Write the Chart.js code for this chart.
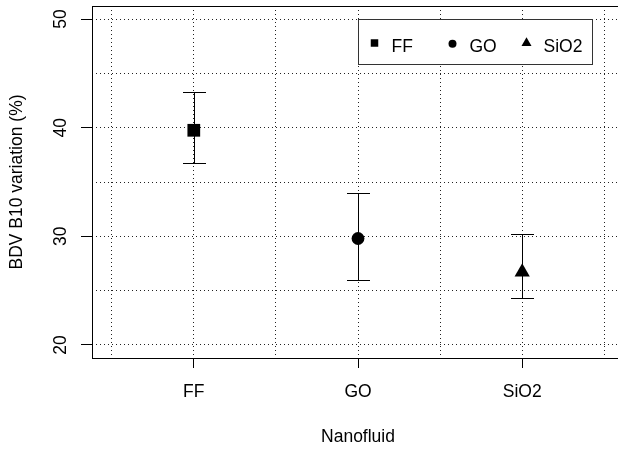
<!DOCTYPE html>
<html>
<head>
<meta charset="utf-8">
<style>
html,body{margin:0;padding:0;overflow:hidden;background:#fff;width:618px;height:450px}
#wrap{position:absolute;left:0;top:0;width:624px;height:450px}
</style>
<script src="https://cdn.jsdelivr.net/npm/chart.js@4/dist/chart.umd.min.js"></script>
</head>
<body>
<div id="wrap"><canvas id="c" width="624" height="450"></canvas></div>
<script>
// ---- data ----
const categories = ['FF', 'GO', 'SiO2'];
const means  = [39.76, 29.8, 26.7];
const lowers = [36.74, 26.0, 24.3];
const uppers = [43.27, 34.0, 30.2];
const yTicks  = [20, 25, 30, 35, 40, 45, 50];
const yLabels = ['20', '', '30', '', '40', '', '50'];
const xGrid   = [0.5, 1, 1.5, 2, 2.5, 3, 3.5];
const xTitle = 'Nanofluid';
const yTitle = 'BDV B10 variation (%)';

// ---- styling ----
const FONT = {family: "'Liberation Sans', Arial, Helvetica, sans-serif", size: 17.5};
const markerStyle = [
  {style: 'rect', r: 9},
  {style: 'circle', r: 6.4},
  {style: 'triangle', r: 8.8}
];
const GRID = '#222';

function drawShape(ctx, kind, x, y, size) {
  ctx.beginPath();
  if (kind === 'rect') {
    ctx.rect(x - size / 2, y - size / 2, size, size);
  } else if (kind === 'circle') {
    ctx.arc(x, y, size / 2, 0, Math.PI * 2);
  } else {
    const r = size / 1.732;
    ctx.moveTo(x, y - r);
    ctx.lineTo(x + 0.866 * r, y + 0.5 * r);
    ctx.lineTo(x - 0.866 * r, y + 0.5 * r);
    ctx.closePath();
  }
  ctx.fill();
}

const errorBars = {
  id: 'errorBars',
  beforeDatasetsDraw(chart) {
    const {ctx, scales: {x, y}} = chart;
    ctx.save();
    ctx.strokeStyle = '#000';
    ctx.lineWidth = 1;
    const cap = 11.5;
    categories.forEach((c, i) => {
      const px = Math.round(x.getPixelForValue(i + 1)) + 0.5;
      const yl = Math.round(y.getPixelForValue(lowers[i])) + 0.5;
      const yu = Math.round(y.getPixelForValue(uppers[i])) + 0.5;
      ctx.beginPath();
      ctx.moveTo(px, yl); ctx.lineTo(px, yu);
      ctx.moveTo(px - cap, yl); ctx.lineTo(px + cap, yl);
      ctx.moveTo(px - cap, yu); ctx.lineTo(px + cap, yu);
      ctx.stroke();
    });
    ctx.restore();
  }
};

const boxAndLegend = {
  id: 'boxAndLegend',
  afterDraw(chart) {
    const {ctx, chartArea: a, scales: {x, y}} = chart;
    ctx.save();
    ctx.strokeStyle = '#000';
    ctx.lineWidth = 1;
    ctx.strokeRect(Math.round(a.left) + 0.5, Math.round(a.top) + 0.5,
                   Math.round(a.right - a.left), Math.round(a.bottom - a.top));
    // legend anchored at (x=2, y=50) top-left
    const lx = Math.round(x.getPixelForValue(2)) + 0.5;
    const ly = Math.round(y.getPixelForValue(50)) + 0.5;
    const bw = 234, bh = 45;
    ctx.fillStyle = '#fff';
    ctx.fillRect(lx, ly, bw, bh);
    ctx.strokeStyle = '#333';
    ctx.strokeRect(lx, ly, bw, bh);
    const markerX = [16, 94, 168];
    const markerSize = [7.5, 8, 10];
    const markerDy = [23.5, 24.3, 23.5];
    ctx.fillStyle = '#000';
    ctx.font = FONT.size + 'px ' + FONT.family;
    ctx.textBaseline = 'alphabetic';
    ctx.textAlign = 'left';
    chart.data.datasets.forEach((ds, i) => {
      drawShape(ctx, markerStyle[i].style, lx + markerX[i], ly + markerDy[i], markerSize[i]);
      ctx.fillText(ds.label, lx + markerX[i] + 17, ly + 32);
    });
    ctx.restore();
  }
};

const datasets = categories.map((c, i) => ({
  label: c,
  data: [{x: i + 1, y: means[i]}],
  pointStyle: markerStyle[i].style,
  pointRadius: markerStyle[i].r,
  pointHoverRadius: markerStyle[i].r,
  backgroundColor: '#000',
  borderColor: '#000',
  borderWidth: 0,
  showLine: false
}));

new Chart(document.getElementById('c'), {
  type: 'scatter',
  data: {datasets},
  plugins: [errorBars, boxAndLegend],
  options: {
    responsive: false,
    animation: false,
    devicePixelRatio: 1,
    layout: {autoPadding: false, padding: {top: 6, left: 0, right: 0, bottom: 0}},
    plugins: {legend: {display: false}, tooltip: {enabled: false}},
    scales: {
      x: {
        type: 'linear', min: 0.38, max: 3.62,
        afterBuildTicks: s => { s.ticks = xGrid.map(v => ({value: v})); },
        afterFit: s => { s.height = 92; s.paddingLeft = 0; s.paddingRight = 0; s.paddingTop = 0; s.paddingBottom = 0; },
        grid: {
          color: GRID, lineWidth: 1, borderDash: [1, 3],
          tickLength: 10, tickWidth: 1, tickBorderDash: [],
          tickColor: ctx => (ctx.tick && Number.isInteger(ctx.tick.value)) ? '#000' : 'rgba(0,0,0,0)'
        },
        border: {display: false, dash: [1, 3]},
        ticks: {
          autoSkip: false, maxRotation: 0, minRotation: 0,
          padding: 13.5, color: '#000', font: FONT,
          callback: v => Number.isInteger(v) ? categories[v - 1] : ''
        },
        title: {display: true, text: xTitle, color: '#000', font: FONT, padding: {top: 2.5, bottom: 2.5}}
      },
      y: {
        type: 'linear', min: 18.8, max: 51.2,
        afterBuildTicks: s => { s.ticks = yTicks.map(v => ({value: v})); },
        afterFit: s => { s.width = 92; s.paddingLeft = 0; s.paddingRight = 0; s.paddingTop = 0; s.paddingBottom = 0; },
        grid: {
          color: GRID, lineWidth: 1, borderDash: [1, 3],
          tickLength: 11, tickWidth: 1, tickBorderDash: [],
          tickColor: ctx => (ctx.tick && ctx.tick.value % 10 === 0) ? '#000' : 'rgba(0,0,0,0)'
        },
        border: {display: false, dash: [1, 3]},
        ticks: {
          autoSkip: false, minRotation: 90, maxRotation: 90, crossAlign: 'center',
          padding: 9.6, color: '#000', font: FONT,
          callback: v => yLabels[yTicks.indexOf(v)]
        },
        title: {display: true, text: yTitle, color: '#000', font: FONT, padding: {top: 7, bottom: 7}}
      }
    }
  }
});
</script>
</body>
</html>
